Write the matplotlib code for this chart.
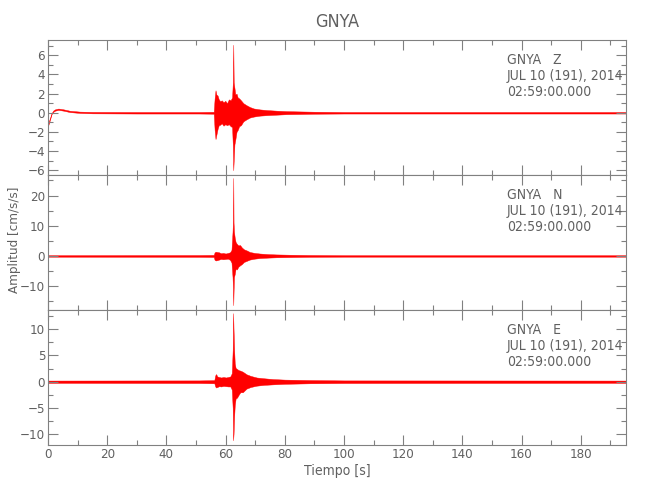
import matplotlib
matplotlib.use("Agg")
import matplotlib.pyplot as plt
from matplotlib.ticker import MultipleLocator
from matplotlib import font_manager as fm

# pick a narrow font if one is installed
_fonts = fm.fontManager.ttflist
_font_kw = {'family': ['DejaVu Sans']}
_cond = [f for f in _fonts if 'condensed' in str(f.stretch).lower() or 'Narrow' in f.name
         or 'Condensed' in f.name]
if _cond:
    pick = sorted(_cond, key=lambda f: (0 if 'Liberation' in f.name else 1,
                                        0 if f.weight in (300, 'light', 400, 'normal', 'regular') else 1))[0]
    _font_kw = {'family': [pick.name, 'DejaVu Sans'], 'stretch': pick.stretch, 'weight': pick.weight}
plt.rcParams['font.family'] = _font_kw['family']
if 'stretch' in _font_kw:
    plt.rcParams['font.stretch'] = _font_kw['stretch']
    plt.rcParams['font.weight'] = _font_kw['weight']

# ---------------- data (envelope) ----------------
station = "GNYA"
date_txt = "JUL 10 (191), 2014"
time_txt = "02:59:00.000"
components = ["Z", "N", "E"]
t_end = 195.3

z_t = [0, 0.6, 1.2, 1.8, 2.4, 3.5, 5.2, 7.4, 10.8, 15, 30, 51, 56.0, 56.3, 56.6, 56.9, 57.3,
       57.7, 58.2, 58.7, 59.3, 59.9, 60.5, 61.1, 61.7, 62.2, 62.45, 62.6, 62.75, 63.0, 63.3,
       63.7, 64.1, 64.6, 65.2, 66.0, 67.0, 68.2, 69.5, 71.6, 74, 77.2, 80.6, 85, 90, 100, 195.3]
z_hi = [-1.2, -0.6, -0.05, 0.24, 0.36, 0.44, 0.36, 0.21, 0.12, 0.09, 0.08, 0.08, 0.1, 1.5, 2.35,
        1.9, 1.8, 1.4, 1.2, 1.3, 1.1, 1.25, 1.0, 1.4, 1.3, 1.6, 3.2, 7.1, 3.2, 2.6, 1.9,
        2.0, 1.6, 1.5, 1.3, 1.0, 0.8, 0.6, 0.45, 0.35, 0.28, 0.22, 0.17, 0.14, 0.11, 0.08, 0.08]
z_lo = [-1.4, -0.8, -0.15, 0.1, 0.22, 0.3, 0.22, 0.07, -0.02, -0.06, -0.08, -0.08, -0.1, -1.8, -2.75,
        -2.3, -1.7, -1.3, -1.25, -1.1, -1.35, -1.2, -1.3, -1.2, -1.4, -1.5, -3.5, -6.0, -5.0, -3.3, -2.8,
        -2.0, -1.8, -1.4, -1.3, -0.9, -0.7, -0.5, -0.4, -0.3, -0.25, -0.2, -0.15, -0.13, -0.1, -0.08, -0.08]

n_t = [0, 51, 56.0, 56.3, 56.7, 57.2, 57.8, 58.4, 59.2, 60.0, 60.8, 61.5, 62.0, 62.35, 62.5,
       62.6, 62.7, 62.85, 63.1, 63.4, 63.8, 64.3, 64.9, 65.5, 66.2, 67.2, 68.2, 69.8, 71.6,
       74.5, 77.2, 82, 88, 100, 195.3]
n_hi = [0.25, 0.3, 0.35, 1.2, 1.4, 1.3, 1.2, 0.9, 1.0, 0.8, 1.0, 1.2, 2.0, 8, 12,
        25.8, 11, 8, 6, 4.6, 4.0, 3.5, 3.6, 2.8, 2.2, 1.8, 1.3, 1.0, 0.8,
        0.6, 0.5, 0.4, 0.32, 0.25, 0.25]
n_lo = [-0.25, -0.3, -0.35, -1.3, -1.5, -1.4, -1.2, -1.0, -1.1, -1.0, -0.9, -1.3, -2.2, -7, -11,
        -16.3, -12, -7, -6, -4.2, -4.5, -3.6, -3.1, -2.7, -2.0, -1.6, -1.2, -0.9, -0.7,
        -0.55, -0.45, -0.38, -0.3, -0.25, -0.25]

e_t = [0, 51, 56.2, 56.5, 56.8, 57.2, 57.8, 58.5, 59.3, 60.1, 60.9, 61.6, 62.1, 62.4, 62.55,
       62.7, 62.9, 63.1, 63.4, 63.9, 64.4, 65.0, 65.8, 67.1, 68.5, 70.5, 73, 76.1, 80, 88.5,
       100, 195.3]
e_hi = [0.22, 0.25, 0.3, 1.2, 1.45, 1.0, 0.9, 0.8, 0.9, 0.8, 0.9, 1.0, 1.6, 6, 13,
        9.8, 6, 3.5, 2.6, 2.4, 2.2, 2.1, 1.9, 1.4, 1.1, 0.8, 0.65, 0.5, 0.4, 0.32,
        0.25, 0.22]
e_lo = [-0.22, -0.25, -0.3, -0.9, -1.1, -1.0, -0.85, -0.9, -0.8, -0.85, -0.9, -0.9, -1.5, -5, -11.1,
        -9.9, -6.6, -4.5, -3.2, -3.0, -2.5, -2.0, -2.0, -1.3, -1.0, -0.75, -0.6, -0.5, -0.4, -0.3,
        -0.25, -0.22]

ylims = [(-6.5, 7.6), (-17.9, 26.8), (-12.0, 13.6)]
ymajor = [2, 10, 5]
yminor = [1, 5, 2.5]

# ---------------- figure ----------------
gray = '#808080'
tcol = '#606060'
fig = plt.figure(figsize=(6.5, 5.0), dpi=100)
left, width = 48 / 650, 578 / 650
panel_h = 135 / 500
bottoms = [1 - 175 / 500, 1 - 310 / 500, 1 - 445 / 500]

traces = [(z_t, z_lo, z_hi), (n_t, n_lo, n_hi), (e_t, e_lo, e_hi)]

for i, (comp, (tt, lo, hi)) in enumerate(zip(components, traces)):
    ax = fig.add_axes([left, bottoms[i], width, panel_h])
    ax.fill_between(tt, lo, hi, color='#ff0000', lw=0.3)
    ax.set_xlim(0, t_end)
    ax.set_ylim(*ylims[i])
    ax.xaxis.set_major_locator(MultipleLocator(20))
    ax.xaxis.set_minor_locator(MultipleLocator(10))
    ax.yaxis.set_major_locator(MultipleLocator(ymajor[i]))
    ax.yaxis.set_minor_locator(MultipleLocator(yminor[i]))
    ax.tick_params(which='both', direction='in', top=True, right=True,
                   color=gray, labelcolor=tcol, labelsize=9.5, width=0.8)
    ax.tick_params(which='major', length=7)
    ax.tick_params(which='minor', length=3.5)
    ax.tick_params(axis='y', pad=2)
    ax.tick_params(axis='x', pad=2)
    for s in ax.spines.values():
        s.set_color(gray)
        s.set_linewidth(0.8)
    if i < 2:
        ax.tick_params(labelbottom=False)
    xa = (507 - 48) / 578
    for k, txt in enumerate([f"{station}   {comp}", date_txt, time_txt]):
        ax.text(xa, 1 - (20 + 16 * k) / 135, txt, transform=ax.transAxes,
                ha='left', va='center', fontsize=10, color=tcol)

fig.text(337 / 650, 1 - 22 / 500, station, ha='center', va='center',
         fontsize=13, color=tcol)
fig.text(337 / 650, 1 - 471 / 500, "Tiempo [s]", ha='center', va='center',
         fontsize=10, color=tcol)
fig.text(15 / 650, 1 - 240 / 500, "Amplitud [cm/s/s]", ha='center', va='center',
         rotation=90, fontsize=9.5, color=tcol)

fig.savefig("out.png", dpi=100, facecolor='white')
